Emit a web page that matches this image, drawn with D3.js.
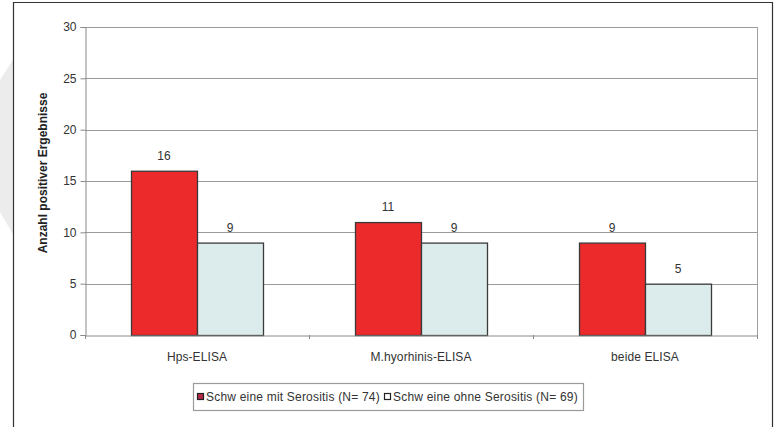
<!DOCTYPE html>
<html>
<head>
<meta charset="utf-8">
<script src="https://cdn.jsdelivr.net/npm/d3@7"></script>
<style>
  html, body { margin: 0; padding: 0; background: #fff; }
  svg { display: block; }
  text { font-family: "Liberation Sans", Arial, sans-serif; }
</style>
</head>
<body>
<svg id="chart" width="782" height="427"></svg>
<script>
// Anzahl positiver ELISA-Ergebnisse je Gruppe
const categories = ["Hps-ELISA", "M.hyorhinis-ELISA", "beide ELISA"];
const seriesNames = ["Schw eine mit Serositis (N= 74)", "Schw eine ohne Serositis (N= 69)"];
const mitSerositis = [16, 11, 9];
const ohneSerositis = [9, 9, 5];
const yTicks = [0, 5, 10, 15, 20, 25, 30];

const seriesValues = [mitSerositis, ohneSerositis];
const seriesColors = ["#ec2a2c", "#dcebeb"];

const svg = d3.select("#chart");

// light decorative wedge on the left page margin
svg.append("path")
  .attr("d", "M0,80 L14,58 L14,236 L0,212 Z")
  .attr("fill", "#ececec");

// outer frame
svg.append("path")
  .attr("d", "M13.5,430 L13.5,2.5 L772.5,2.5 L772.5,430")
  .attr("fill", "none")
  .attr("stroke", "#333")
  .attr("stroke-width", 1.2);

const plot = { left: 85, right: 757, top: 27, bottom: 335 };

const x = d3.scaleBand()
  .domain(categories)
  .range([plot.left, plot.right])
  .paddingInner(0)
  .paddingOuter(0);

const y = d3.scaleLinear()
  .domain([0, 30])
  .range([plot.bottom, plot.top]);

// gridlines
svg.append("g")
  .selectAll("line")
  .data(yTicks.filter(t => t > 0))
  .join("line")
  .attr("x1", plot.left).attr("x2", plot.right)
  .attr("y1", d => Math.round(y(d)) + 0.5)
  .attr("y2", d => Math.round(y(d)) + 0.5)
  .attr("stroke", "#9a9a9a")
  .attr("stroke-width", 1.2);

// right plot-area edge
svg.append("line")
  .attr("x1", plot.right + 0.5).attr("x2", plot.right + 0.5)
  .attr("y1", plot.top).attr("y2", plot.bottom)
  .attr("stroke", "#a0a0a0");

// y axis
const yAxis = d3.axisLeft(y).tickValues(yTicks).tickSize(5).tickPadding(4);
const gy = svg.append("g")
  .attr("transform", `translate(${plot.left + 0.5},0)`)
  .call(yAxis);
gy.select(".domain").attr("stroke", "#8a8a8a");
gy.selectAll(".tick line").attr("stroke", "#8a8a8a");
gy.selectAll(".tick text")
  .attr("fill", "#333")
  .style("font-size", "12px")
  .style("font-family", "'Liberation Sans', Arial, sans-serif");

// bars
const barWidth = 66;
const groupOffset = (x.bandwidth() - 2 * barWidth) / 2;

seriesValues.forEach((vals, si) => {
  const g = svg.append("g");
  g.selectAll("rect")
    .data(vals)
    .join("rect")
    .attr("x", (d, i) => x(categories[i]) + groupOffset + si * barWidth + 0.5)
    .attr("y", d => y(d) + 0.5)
    .attr("width", barWidth)
    .attr("height", d => y(0) - y(d))
    .attr("fill", seriesColors[si])
    .attr("stroke", "#3a3a3a")
    .attr("stroke-width", 1.3);

  g.selectAll("text")
    .data(vals)
    .join("text")
    .attr("x", (d, i) => x(categories[i]) + groupOffset + si * barWidth + barWidth / 2)
    .attr("y", d => y(d) - 11)
    .attr("text-anchor", "middle")
    .attr("fill", "#333")
    .style("font-size", "12px")
    .text(d => d);
});

// x axis
const xAxis = d3.axisBottom(x).tickSize(0).tickPadding(17);
const gx = svg.append("g")
  .attr("transform", `translate(0,${plot.bottom + 0.5})`)
  .call(xAxis);
gx.select(".domain").attr("stroke", "#8a8a8a");
gx.selectAll(".tick text")
  .attr("fill", "#333")
  .style("font-size", "12px")
  .style("letter-spacing", "0.1px")
  .style("font-family", "'Liberation Sans', Arial, sans-serif");

// category boundary tick marks
svg.append("g")
  .selectAll("line")
  .data(categories)
  .join("line")
  .attr("x1", d => x(d) + 0.5).attr("x2", d => x(d) + 0.5)
  .attr("y1", plot.bottom).attr("y2", plot.bottom + 4)
  .attr("stroke", "#8a8a8a");
svg.append("line")
  .attr("x1", plot.right + 0.5).attr("x2", plot.right + 0.5)
  .attr("y1", plot.bottom).attr("y2", plot.bottom + 4)
  .attr("stroke", "#8a8a8a");

// y axis title
svg.append("text")
  .attr("transform", "translate(47,173) rotate(-90)")
  .attr("text-anchor", "middle")
  .attr("fill", "#222")
  .style("font-size", "12px")
  .style("font-weight", "bold")
  .text("Anzahl positiver Ergebnisse");

// legend
const legend = svg.append("g");
legend.append("rect")
  .attr("x", 193.5).attr("y", 383.5)
  .attr("width", 390).attr("height", 27)
  .attr("fill", "#fff")
  .attr("stroke", "#9a9a9a")
  .attr("stroke-width", 1.2);

const legendX = [197, 384];
seriesNames.forEach((name, i) => {
  legend.append("rect")
    .attr("x", legendX[i] + 0.5).attr("y", 393.5)
    .attr("width", 6).attr("height", 6)
    .attr("fill", i === 0 ? "#b32a48" : "#fff")
    .attr("stroke", "#222")
    .attr("stroke-width", 1.2);
  legend.append("text")
    .attr("x", legendX[i] + 9)
    .attr("y", 401)
    .attr("fill", "#333")
    .style("font-size", "12px")
    .style("letter-spacing", "0.2px")
    .text(name);
});
</script>
</body>
</html>
